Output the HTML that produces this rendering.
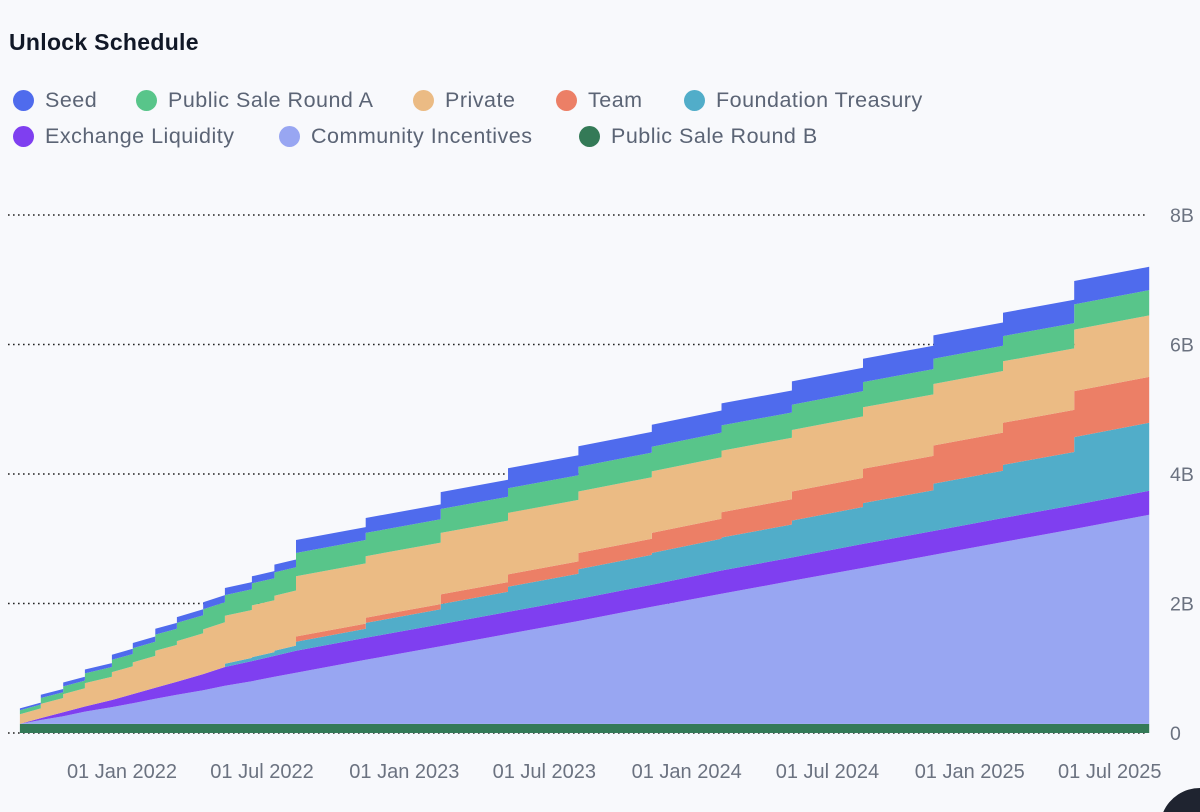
<!DOCTYPE html>
<html><head><meta charset="utf-8">
<style>
html,body{margin:0;padding:0;background:#f8f9fc;width:1200px;height:812px;overflow:hidden;}
body{position:relative;font-family:"Liberation Sans",sans-serif;}
.title{position:absolute;left:9px;top:29px;font-size:23px;font-weight:bold;color:#111827;letter-spacing:0.3px;}
.leg{position:absolute;font-size:21.5px;color:#5b6475;white-space:nowrap;letter-spacing:0.5px;}
.dot{position:absolute;width:21px;height:21px;border-radius:50%;}
svg{position:absolute;left:0;top:0;overflow:hidden;}
</style></head><body>
<div class="title">Unlock Schedule</div>
<div id="legend"></div>
<svg id="chart" width="1200" height="812">
<path d="M1163.3,812 A40,40 0 0 1 1200,788 L1200,812 Z" fill="#1f2430"></path>
</svg>
<script>
const stepDates = ['2021-08-22','2021-09-18','2021-10-17','2021-11-14','2021-12-19','2022-01-15','2022-02-13','2022-03-13','2022-04-16','2022-05-14','2022-06-18','2022-07-17','2022-08-14','2022-11-12','2023-02-17','2023-05-15','2023-08-14','2023-11-17','2024-02-15','2024-05-16','2024-08-16','2024-11-15','2025-02-13','2025-05-16','2025-08-21'];
// linear series (values at each stepDate, in billions)
const publicSaleB = [0.14,0.14,0.14,0.14,0.14,0.14,0.14,0.14,0.14,0.14,0.14,0.14,0.14,0.14,0.14,0.14,0.14,0.14,0.14,0.14,0.14,0.14,0.14,0.14,0.14];
const community = [0,0.06,0.12,0.19,0.26,0.32,0.39,0.45,0.52,0.59,0.66,0.73,0.79,0.99,1.20,1.39,1.59,1.81,2.01,2.21,2.41,2.61,2.81,3.01,3.23];
const exchange = [0,0.03,0.06,0.08,0.11,0.14,0.17,0.20,0.25,0.29,0.31,0.32,0.34,0.34,0.34,0.34,0.34,0.34,0.36,0.36,0.37,0.37,0.37,0.37,0.37];
// stepped series (value held during each period, in billions)
const foundation = [0,0,0,0,0,0,0,0,0,0.05,0.06,0.08,0.14,0.23,0.31,0.39,0.46,0.49,0.51,0.57,0.63,0.73,0.82,1.05];
const team = [0,0,0,0,0,0,0,0,0,0,0,0,0.08,0.08,0.15,0.19,0.25,0.31,0.39,0.45,0.53,0.59,0.65,0.71];
const privateSale = [0.15,0.22,0.28,0.36,0.43,0.49,0.57,0.63,0.69,0.74,0.80,0.85,0.93,0.95,0.95,0.95,0.95,0.95,0.95,0.95,0.95,0.95,0.95,0.95];
const publicSaleA = [0.06,0.09,0.12,0.15,0.19,0.22,0.25,0.28,0.31,0.32,0.34,0.36,0.36,0.36,0.37,0.38,0.38,0.38,0.39,0.39,0.39,0.39,0.39,0.39];
const seed = [0.03,0.05,0.06,0.06,0.08,0.08,0.09,0.09,0.11,0.11,0.11,0.12,0.20,0.23,0.26,0.31,0.32,0.34,0.34,0.36,0.36,0.36,0.36,0.36];
const yTicks = [0,2,4,6,8];
const yTickLabels = ['0','2B','4B','6B','8B'];
const xTickDates = ['2022-01-01','2022-07-01','2023-01-01','2023-07-01','2024-01-01','2024-07-01','2025-01-01','2025-07-01'];
const xTickLabels = ['01 Jan 2022','01 Jul 2022','01 Jan 2023','01 Jul 2023','01 Jan 2024','01 Jul 2024','01 Jan 2025','01 Jul 2025'];

const NS='http://www.w3.org/2000/svg';
const svg=document.getElementById('chart');
const day0=Date.UTC(2022,0,1);
function xScale(d){const t=(Date.parse(d+'T00:00:00Z')-day0)/86400000;return 122+t*0.7735;}
function yScale(v){return 733-v*64.75;}

yTicks.forEach((v,i)=>{
  const l=document.createElementNS(NS,'line');
  
  
  l.setAttribute('x1',8);l.setAttribute('x2',1146);
  l.setAttribute('y1',yScale(v));l.setAttribute('y2',yScale(v));
  l.setAttribute('stroke','#222');l.setAttribute('stroke-width','1.6');
  l.setAttribute('stroke-dasharray','1.6 3.4');
  svg.appendChild(l);
  const t=document.createElementNS(NS,'text');
  
  
  t.setAttribute('x',1170);t.setAttribute('y',yScale(v)+7);
  t.setAttribute('font-size','19.5');t.setAttribute('fill','#6b7280');
  t.setAttribute('font-family','Liberation Sans, sans-serif');
  t.textContent=yTickLabels[i];
  svg.appendChild(t);
});
xTickDates.forEach((d,i)=>{
  const t=document.createElementNS(NS,'text');
  
  
  t.setAttribute('x',xScale(d));t.setAttribute('y',778);
  t.setAttribute('text-anchor','middle');
  t.setAttribute('font-size','20');t.setAttribute('fill','#6b7280');
  t.setAttribute('font-family','Liberation Sans, sans-serif');
  t.textContent=xTickLabels[i];
  svg.appendChild(t);
});

const n=stepDates.length-1;
const xs=stepDates.map(xScale);
function linBase(k){return publicSaleB[k]+community[k]+exchange[k];}
const layers=[
 {name:'Public Sale Round B',color:'#347a57',lo:k=>0,hi:k=>publicSaleB[k]},
 {name:'Community Incentives',color:'#98a6f2',lo:k=>publicSaleB[k],hi:k=>publicSaleB[k]+community[k]},
 {name:'Exchange Liquidity',color:'#7f3ff0',lo:k=>publicSaleB[k]+community[k],hi:k=>linBase(k)},
];
const stepped=[['Foundation Treasury','#51adc9',foundation],['Team','#ec7f66',team],['Private','#ebbb84',privateSale],['Public Sale Round A','#58c58a',publicSaleA],['Seed','#4f6bed',seed]];
function drawPath(pts,color,name){
  const p=document.createElementNS(NS,'path');
  
  
  p.setAttribute('d','M'+pts.map(q=>q[0].toFixed(1)+','+q[1].toFixed(1)).join('L')+'Z');
  p.setAttribute('fill',color);
  svg.appendChild(p);
}
layers.forEach(L=>{
  const top=[],bot=[];
  for(let k=0;k<=n;k++){top.push([xs[k],yScale(L.hi(k))]);bot.push([xs[k],yScale(L.lo(k))]);}
  drawPath(top.concat(bot.reverse()),L.color,L.name);
});
stepped.forEach((S,si)=>{
  const top=[],bot=[];
  for(let i=0;i<n;i++){
    let below=0;for(let j=0;j<si;j++)below+=stepped[j][2][i];
    const v=S[2][i];
    top.push([xs[i],yScale(linBase(i)+below+v)],[xs[i+1],yScale(linBase(i+1)+below+v)]);
    bot.push([xs[i],yScale(linBase(i)+below)],[xs[i+1],yScale(linBase(i+1)+below)]);
  }
  drawPath(top.concat(bot.reverse()),S[1],S[0]);
});

const legendNames=['Seed','Public Sale Round A','Private','Team','Foundation Treasury','Exchange Liquidity','Community Incentives','Public Sale Round B'];
const legendColors=['#4f6bed','#58c58a','#ebbb84','#ec7f66','#51adc9','#7f3ff0','#98a6f2','#347a57'];
const legendX=[13,136,413,556,684,13,279,579];
const legendY=[90,90,90,90,90,126,126,126];
const lg=document.getElementById('legend');
legendNames.forEach((nm,i)=>{
  const d=document.createElement('div');
  d.className='dot';
  
  
  d.style.left=legendX[i]+'px';d.style.top=legendY[i]+'px';d.style.background=legendColors[i];
  lg.appendChild(d);
  const t=document.createElement('div');
  t.className='leg';
  
  
  t.style.left=(legendX[i]+32)+'px';t.style.top=(legendY[i]-2)+'px';
  t.textContent=nm;
  lg.appendChild(t);
});
</script>
</body></html>
